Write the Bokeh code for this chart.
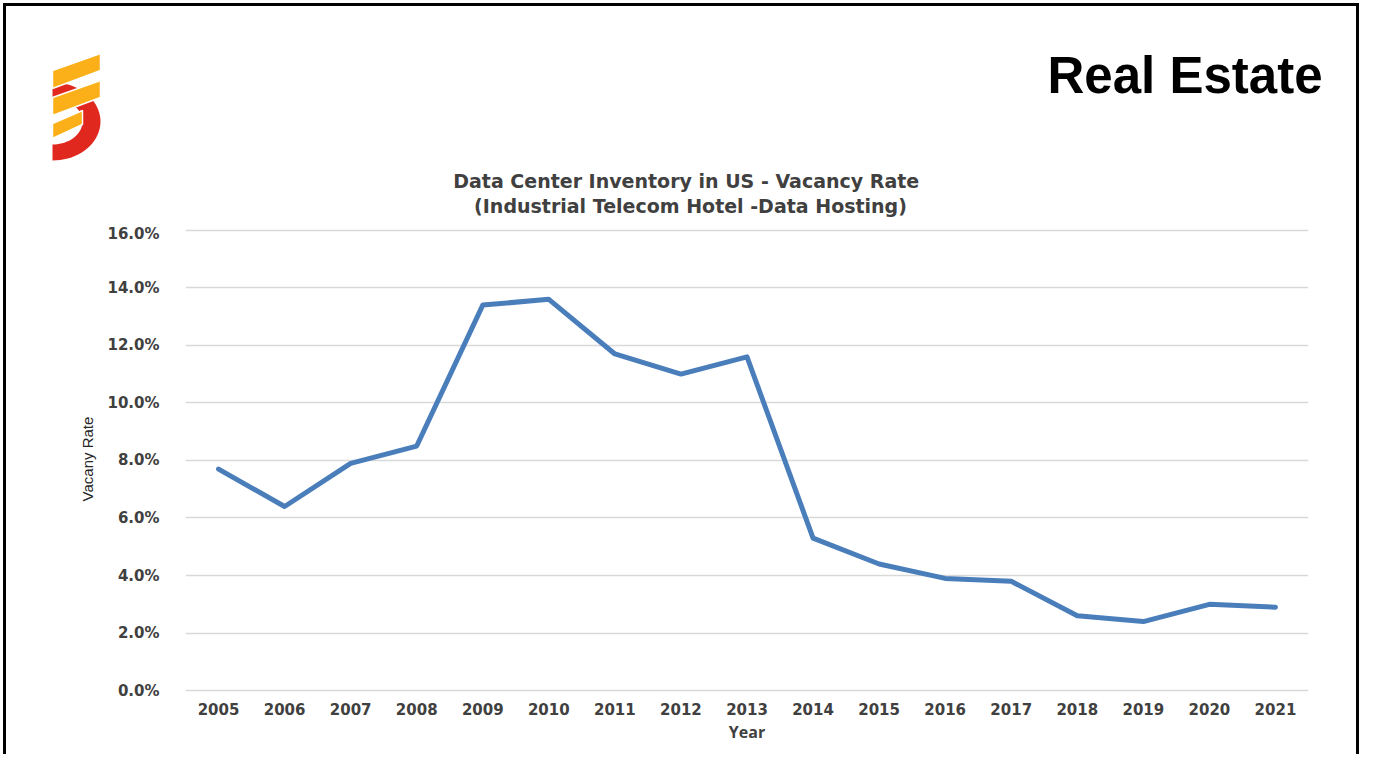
import numpy as np
from bokeh.plotting import figure
from bokeh.layouts import column
from bokeh.models import FactorRange, Range1d, FixedTicker, PrintfTickFormatter
from bokeh.core.properties import value
from bokeh.embed import file_html
from bokeh.resources import INLINE

# ---- data ----
years = ["2005", "2006", "2007", "2008", "2009", "2010", "2011", "2012", "2013",
         "2014", "2015", "2016", "2017", "2018", "2019", "2020", "2021"]
vacancy = [7.7, 6.4, 7.9, 8.5, 13.4, 13.6, 11.7, 11.0, 11.6,
           5.3, 4.4, 3.9, 3.8, 2.6, 2.4, 3.0, 2.9]
y_ticks = [0, 2, 4, 6, 8, 10, 12, 14, 16]
chart_title = ["Data Center Inventory in US  - Vacancy Rate",
               "(Industrial Telecom Hotel -Data Hosting)"]
page_title = "Real Estate"
x_label = "Year"
y_label = "Vacany Rate"

OX, OY = 6, 6          # content origin (margin + css border)
CW = 1350              # content width
HH = 218               # header height
CH = 530               # chart figure height

# ---------------- header (logo, page title, chart title) ----------------
hdr = figure(width=CW, height=HH, x_range=Range1d(OX, OX + CW),
             y_range=Range1d(OY + HH, OY), output_backend="svg",
             toolbar_location=None, x_axis_type=None, y_axis_type=None,
             min_border=0)
hdr.frame_align = False
hdr.outline_line_color = None
hdr.grid.grid_line_color = None

# logo: red half ring
ang = np.linspace(np.pi / 2, -np.pi / 2, 40)
cx, cy = 52, 121
rx = list(cx + 48 * np.cos(ang)) + list(cx + 30 * np.cos(ang[::-1]))
ry = list(cy - 39 * np.sin(ang)) + list(cy - 23 * np.sin(ang[::-1]))
hdr.patch(rx, ry, fill_color="#e0281e", line_color=None)
# logo: yellow bands
bands_x = [[52, 100, 100, 52], [52, 100, 100, 52], [52, 82, 82, 52]]
bands_y = [[70, 53, 70, 88], [97, 80, 97, 115], [123, 110, 124, 138]]
hdr.patches(bands_x, bands_y, fill_color="#fbb01a", line_color="white",
            line_width=1.5)

hdr.text(x=[1322], y=[75], text=[page_title], text_align="right",
         text_baseline="middle", text_font=value("Liberation Sans"),
         text_font_style="bold", text_font_size="51px", text_color="black")
hdr.text(x=[689, 690], y=[180, 205], text=chart_title, text_align="center",
         text_baseline="middle", text_font=value("DejaVu Sans"),
         text_font_style="bold", text_font_size="19px", text_color="#404040")

# ---------------- chart ----------------
FL, FR = 185, 1308     # frame left/right in picture px
FT, FBm = 224, 693     # frame top/bottom in picture px
p = figure(width=CW, height=CH, x_range=FactorRange(factors=years),
           y_range=Range1d(-0.1, 16.2), output_backend="svg", toolbar_location=None,
           min_border_left=FL - OX, min_border_right=OX + CW - FR,
           min_border_top=FT - (OY + HH), min_border_bottom=(OY + HH + CH) - FBm)
p.frame_align = False
p.outline_line_color = None

p.line(x=years, y=vacancy, line_color="#4a7ebb", line_width=5,
       line_join="round", line_cap="round")

p.xgrid.grid_line_color = None
p.ygrid.grid_line_color = "#d9d9d9"
p.ygrid.grid_line_width = 1.5

p.yaxis.ticker = FixedTicker(ticks=y_ticks)
p.yaxis.formatter = PrintfTickFormatter(format="%.1f%%")
for ax in (p.xaxis[0], p.yaxis[0]):
    ax.axis_line_color = None
    ax.major_tick_line_color = None
    ax.minor_tick_line_color = None
    ax.major_label_text_font = "DejaVu Sans"
    ax.major_label_text_font_style = "bold"
    ax.major_label_text_font_size = "15px"
    ax.major_label_text_color = "#404040"
p.yaxis.major_label_standoff = 20
p.xaxis.major_label_standoff = 3
p.xaxis.axis_label = x_label
p.xaxis.axis_label_text_font = "Open Sans"
p.xaxis.axis_label_text_font_style = "bold"
p.xaxis.axis_label_text_font_size = "16px"
p.xaxis.axis_label_text_color = "#404040"
p.xaxis.axis_label_standoff = 3
p.yaxis.axis_label = y_label
p.yaxis.axis_label_text_font = "Liberation Sans"
p.yaxis.axis_label_text_font_style = "normal"
p.yaxis.axis_label_text_font_size = "15px"
p.yaxis.axis_label_text_color = "#262626"
p.yaxis.axis_label_standoff = 8

page = column(hdr, p, styles={"border-top": "3px solid black",
                              "border-left": "3px solid black",
                              "border-right": "3px solid black",
                              "margin-left": "3px", "margin-top": "3px"})

open("out.html", "w").write(file_html(page, INLINE))
